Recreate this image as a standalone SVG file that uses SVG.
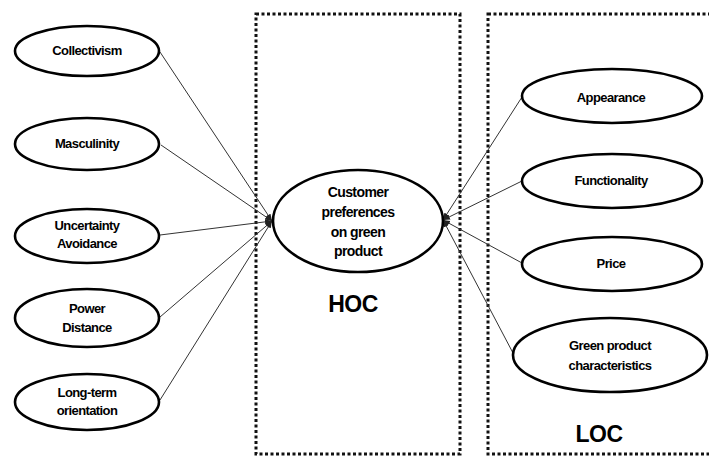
<svg xmlns="http://www.w3.org/2000/svg" width="709" height="457" viewBox="0 0 709 457">
  <defs>
    <marker id="arrow" viewBox="0 0 10 10" refX="10" refY="5" markerWidth="7" markerHeight="7" orient="auto" markerUnits="userSpaceOnUse">
      <path d="M0,1 L10,5 L0,9 z" fill="#222"/>
    </marker>
    <style>
      .frame { fill: none; stroke: #111; stroke-width: 3; stroke-dasharray: 3 2.5; }
      .node ellipse { fill: #fff; stroke: #000; stroke-width: 2.6; }
      .node text { font-family: "Liberation Sans", Arial, sans-serif; font-weight: bold; font-size: 13px; letter-spacing: -0.6px; fill: #000; text-anchor: middle; }
      #customer-preferences text { font-size: 14px; }
      .conn line { stroke: #333; stroke-width: 1; marker-end: url(#arrow); }
      .label { font-family: "Liberation Sans", Arial, sans-serif; font-weight: bold; font-size: 23px; fill: #000; text-anchor: middle; letter-spacing: -0.5px; }
    </style>
  </defs>
  <rect width="709" height="457" fill="#fff"/>

  <!-- Grouping frames -->
  <rect class="frame" x="256" y="14" width="204" height="440"/>
  <rect class="frame" x="488" y="14" width="240" height="440"/>
  <text class="label" x="353" y="312">HOC</text>
  <text class="label" x="599" y="442">LOC</text>

  <!-- Connectors -->
  <g id="connectors" class="conn">
    <line x1="160" y1="52" x2="272" y2="221"/>
    <line x1="161" y1="145" x2="272" y2="221"/>
    <line x1="160" y1="235" x2="272" y2="221"/>
    <line x1="160" y1="317" x2="272" y2="221"/>
    <line x1="160" y1="400" x2="272" y2="221"/>
    <line x1="522" y1="97" x2="443" y2="220"/>
    <line x1="522" y1="181" x2="443" y2="220"/>
    <line x1="522" y1="263" x2="443" y2="220"/>
    <line x1="513" y1="353" x2="443" y2="220"/>
  </g>

  <!-- Centre construct -->
  <g id="customer-preferences" class="node">
    <ellipse cx="358" cy="221" rx="85" ry="51"/>
    <text x="358" y="197">Customer</text>
    <text x="358" y="217">preferences</text>
    <text x="358" y="237">on green</text>
    <text x="358" y="256">product</text>
  </g>

  <!-- Cultural dimensions -->
  <g id="collectivism" class="node">
    <ellipse cx="87" cy="51" rx="72" ry="25"/>
    <text x="87" y="55">Collectivism</text>
  </g>
  <g id="masculinity" class="node">
    <ellipse cx="87" cy="144" rx="72" ry="26"/>
    <text x="87" y="148">Masculinity</text>
  </g>
  <g id="uncertainty-avoidance" class="node">
    <ellipse cx="87" cy="236" rx="72" ry="27"/>
    <text x="87" y="230">Uncertainty</text>
    <text x="87" y="248">Avoidance</text>
  </g>
  <g id="power-distance" class="node">
    <ellipse cx="87" cy="318" rx="72" ry="29"/>
    <text x="87" y="313">Power</text>
    <text x="87" y="332">Distance</text>
  </g>
  <g id="long-term-orientation" class="node">
    <ellipse cx="87" cy="402" rx="72" ry="28"/>
    <text x="87" y="397">Long-term</text>
    <text x="87" y="415">orientation</text>
  </g>

  <!-- Product attributes -->
  <g id="appearance" class="node">
    <ellipse cx="612" cy="96" rx="90" ry="27"/>
    <text x="611" y="102">Appearance</text>
  </g>
  <g id="functionality" class="node">
    <ellipse cx="612" cy="181" rx="90" ry="27"/>
    <text x="611" y="185">Functionality</text>
  </g>
  <g id="price" class="node">
    <ellipse cx="612" cy="264" rx="90" ry="27"/>
    <text x="611" y="268">Price</text>
  </g>
  <g id="green-product-characteristics" class="node">
    <ellipse cx="610" cy="355" rx="97" ry="37"/>
    <text x="610" y="350">Green product</text>
    <text x="610" y="370">characteristics</text>
  </g>
</svg>
